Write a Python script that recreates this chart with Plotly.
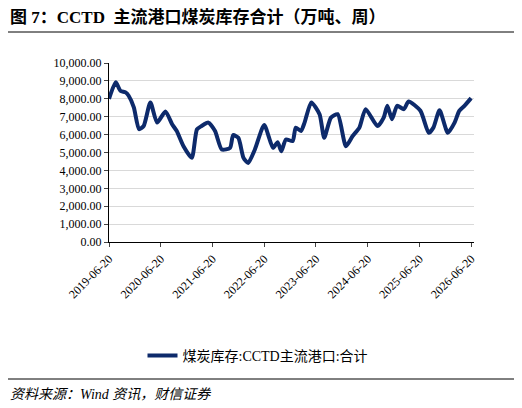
import plotly.graph_objects as go
import datetime as dt

t_years = [0,0.13,0.22,0.32,0.38,0.48,0.58,0.67,0.8,0.93,1.09,1.22,1.31,1.44,1.6,1.7,1.79,1.92,2.05,2.18,2.34,2.4,2.5,2.6,2.69,2.82,3.0,3.17,3.26,3.33,3.42,3.55,3.61,3.71,3.78,3.91,4.07,4.16,4.29,4.42,4.58,4.71,4.84,4.96,5.19,5.31,5.38,5.47,5.57,5.7,5.79,6.02,6.18,6.27,6.39,6.55,6.68,6.77,6.87,7.0]
values = [8000,8920,8450,8360,8170,7520,6300,6480,7800,6670,7290,6580,6200,5350,4700,6290,6480,6670,6200,5170,5260,5970,5820,4700,4410,5170,6540,5260,5580,5070,5730,5640,6390,6200,6670,7800,7140,5820,6950,7140,5350,5920,6390,7420,6480,6950,7610,6860,7610,7420,7850,7330,6100,6390,7360,6100,6670,7330,7610,8040]
tick_labels = ["2019-06-20","2020-06-20","2021-06-20","2022-06-20","2023-06-20","2024-06-20","2025-06-20","2026-06-20"]
series_name = "煤炭库存:CCTD主流港口:合计"

start = dt.datetime(2019,6,20)
dates = [start + dt.timedelta(days=t*365.25) for t in t_years]

L, R, T, B = 101, 56, 55, 174
pw, ph = 522-L-R, 408-T-B
def px(x): return (x-L)/pw
def py(y): return (408-B-y)/ph

font = "Liberation Serif, Noto Sans CJK SC"
fig = go.Figure(go.Scatter(x=dates, y=values, mode="lines", name=series_name,
                           line=dict(color="#0d2a6b", width=4, shape="spline", smoothing=0.6)))
fig.update_layout(
    width=522, height=408, paper_bgcolor="white", plot_bgcolor="white",
    margin=dict(l=L, r=R, t=T, b=B),
    font=dict(family=font, size=12, color="black"),
    showlegend=True,
    legend=dict(orientation="h", x=px(250), xanchor="center", y=py(348), yanchor="middle",
                font=dict(size=14, family=font)),
    xaxis=dict(type="date", range=[start, dt.datetime(2026,7,10)],
               tickvals=tick_labels, ticktext=tick_labels, tickangle=-45,
               showgrid=False, showline=True, linecolor="black", ticks="outside",
               ticklen=4, tickfont=dict(size=12)),
    yaxis=dict(range=[0,10000], dtick=1000, tickformat=",.2f", showgrid=True,
               gridcolor="#d9d9d9", showline=True, linecolor="black", ticks="outside",
               ticklen=4, tickfont=dict(size=12), zeroline=False),
    annotations=[
        dict(text="<b>图 7：CCTD  主流港口煤炭库存合计（万吨、周）</b>", x=px(0), y=py(-3), xref="paper", yref="paper",
             xanchor="left", yanchor="top", showarrow=False, font=dict(size=17, family=font)),
        dict(text="<i>资料来源：Wind 资讯，财信证券</i>", x=px(0), y=py(386), xref="paper", yref="paper",
             xanchor="left", yanchor="middle", showarrow=False, font=dict(size=14, family=font)),
    ],
    shapes=[
        dict(type="line", xref="paper", yref="paper", x0=px(-6), x1=px(516), y0=py(24), y1=py(24), line=dict(color="black", width=1)),
        dict(type="line", xref="paper", yref="paper", x0=px(-6), x1=px(516), y0=py(371), y1=py(371), line=dict(color="black", width=1)),
    ],
)
fig.write_html("out.html")
